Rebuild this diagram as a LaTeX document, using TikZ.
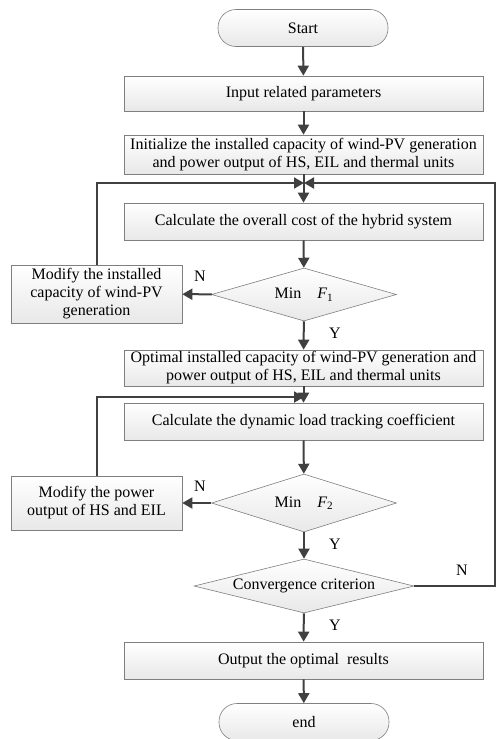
\documentclass[tikz,border=0pt]{standalone}
\usepackage{fontspec}
\setmainfont{Liberation Serif}
\usetikzlibrary{shapes.geometric,arrows.meta,shadings}
\definecolor{linec}{HTML}{404040}
\definecolor{bordc}{HTML}{7F7F7F}
\begin{document}
\begin{tikzpicture}[x=1pt,y=-1pt,
  base/.style={draw=bordc,line width=0.6pt,top color=white,bottom color=black!9,
    font=\fontsize{16}{18}\selectfont,align=center,inner sep=0pt},
  procbox/.style={base,rectangle,minimum width=359pt},
  termbox/.style={base,rectangle,rounded corners=18pt,minimum width=170pt,minimum height=37pt},
  decbox/.style={base,diamond,aspect=4},
  arr/.style={draw=linec,line width=2pt,-{Triangle[length=10pt,width=11pt]}},
  lab/.style={font=\fontsize{16}{18}\selectfont}]
\useasboundingbox (0,0) rectangle (496,739);

\node[termbox] (start) at (303,28) {Start};
\node[procbox,minimum height=35pt] (input) at (303.5,93.5) {Input related parameters};
\node[procbox,minimum height=39pt] (init) at (303.5,154.5) {Initialize the installed capacity of wind-PV generation\\and power output of HS, EIL and thermal units};
\node[procbox,minimum height=37pt] (calc) at (303.5,221.5) {Calculate the overall cost of the hybrid system};
\node[decbox,minimum width=185pt,minimum height=53pt] (d1) at (304,294.5) {Min\quad{\itshape F}\textsubscript{1}};
\node[base,rectangle,minimum width=171pt,minimum height=58pt] (mod1) at (96.5,294) {Modify the installed\\capacity of wind-PV\\generation};
\node[procbox,minimum height=36pt] (opt) at (303.5,368) {Optimal installed capacity of wind-PV generation and\\power output of HS, EIL and thermal units};
\node[procbox,minimum height=37pt] (calc2) at (303.5,421.5) {Calculate the dynamic load tracking coefficient};
\node[decbox,minimum width=185pt,minimum height=58pt] (d2) at (304,503) {Min\quad{\itshape F}\textsubscript{2}};
\node[base,rectangle,minimum width=171pt,minimum height=54pt] (mod2) at (96.5,503) {Modify the power\\output of HS and EIL};
\node[decbox,minimum width=220pt,minimum height=54pt] (conv) at (304,586) {Convergence criterion};
\node[procbox,minimum height=37pt] (out) at (303.5,660.5) {Output the optimal\ \ results};
\node[termbox] (end) at (304,722) {end};

\coordinate (m1) at (304,183);
\coordinate (m2) at (304,397);
\coordinate (rc) at (495,183);

\draw[arr] (start) -- (input);
\draw[arr] (input) -- (init);
\draw[arr] (init) -- (calc);
\draw[arr] (calc) -- (d1);
\draw[arr] (d1) -- (mod1);
\draw[arr] (mod1.north) |- (m1);
\draw[arr] (d1) -- (opt);
\draw[arr] (opt) -- (calc2);
\draw[arr] (calc2) -- (d2);
\draw[arr] (d2) -- (mod2);
\draw[arr] (mod2.north) |- (m2);
\draw[arr] (d2) -- (conv);
\draw[arr] (conv.east) -| (rc) -- (m1);
\draw[arr] (conv) -- (out);
\draw[arr] (out) -- (end);

\node[lab] (n1) at (200,276) {N};
\node[lab] (y1) at (335,333) {Y};
\node[lab] (n2) at (200,486) {N};
\node[lab] (y2) at (335,544) {Y};
\node[lab] (n3) at (462,570) {N};
\node[lab] (y3) at (335,625) {Y};
\end{tikzpicture}
\end{document}
